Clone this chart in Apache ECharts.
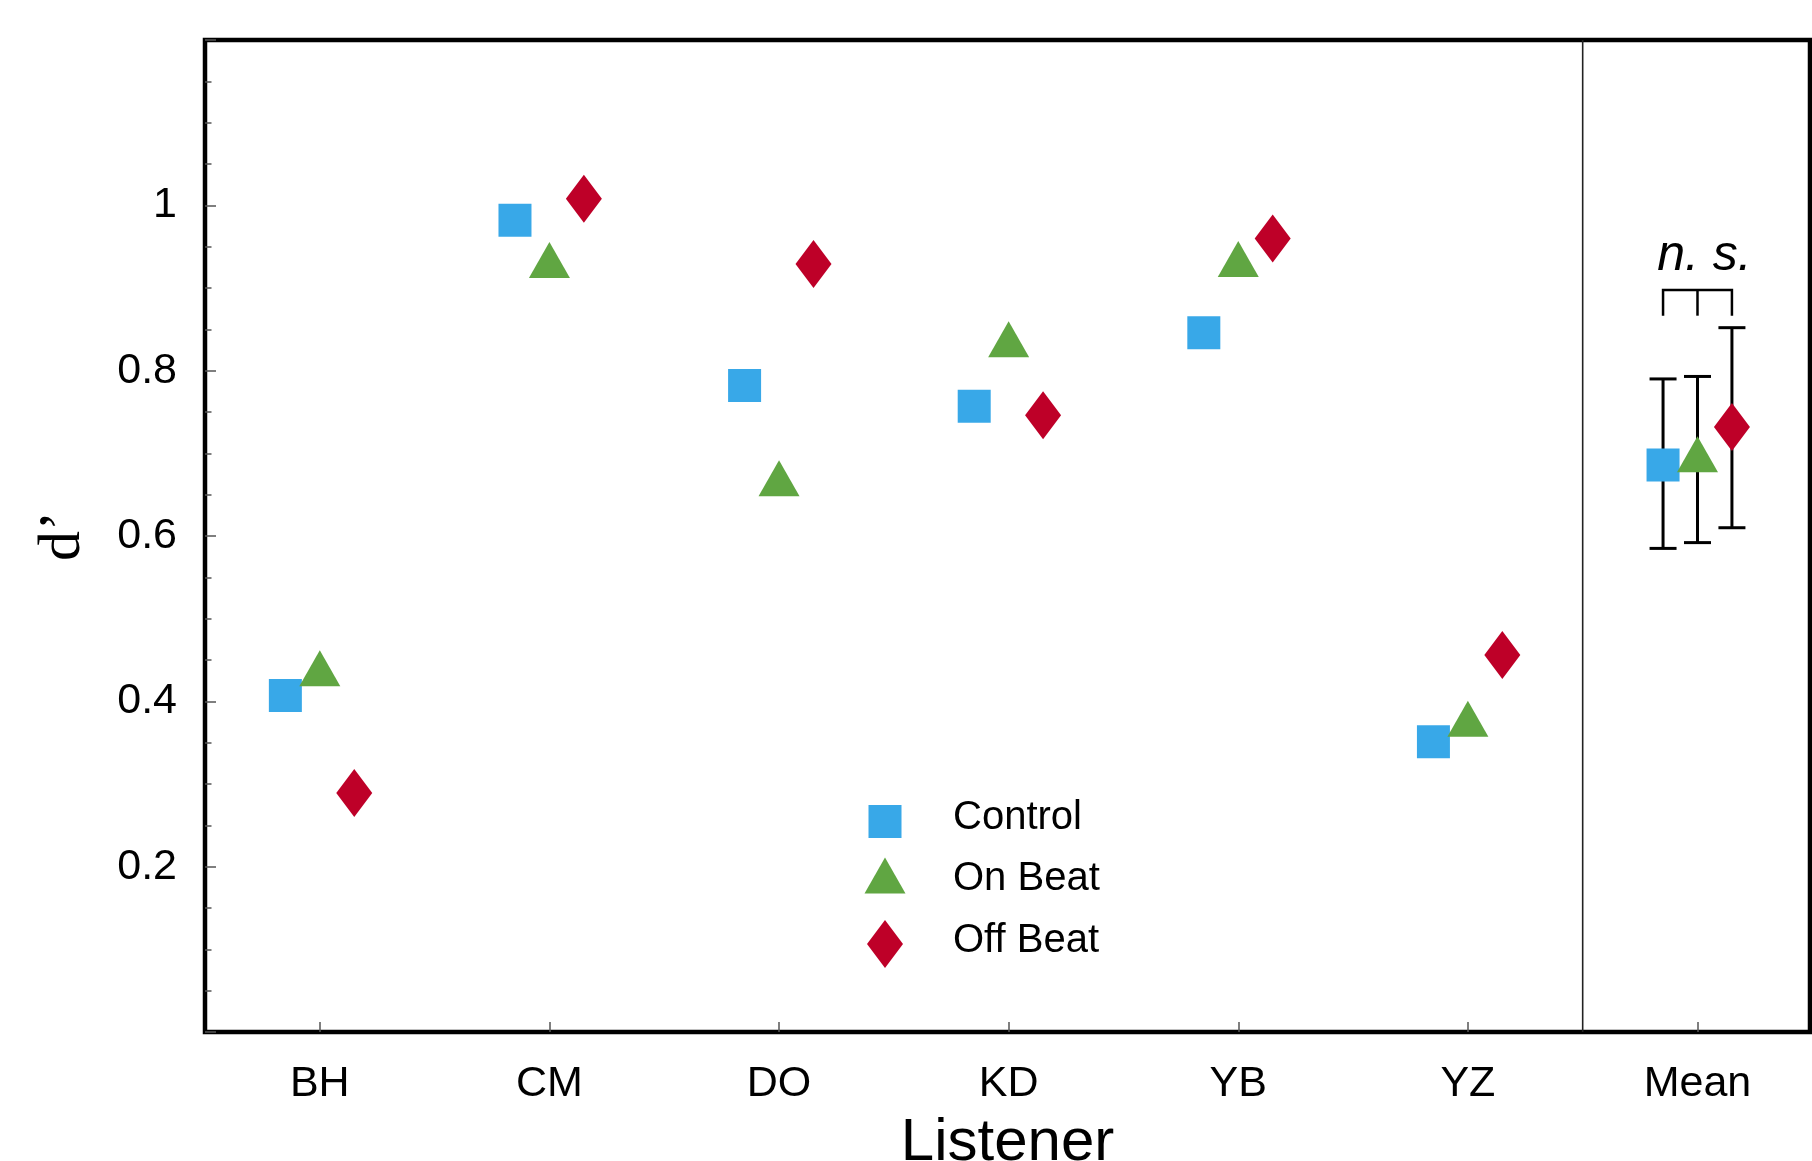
<!DOCTYPE html>
<html><head><meta charset="utf-8">
<script src="https://cdn.jsdelivr.net/npm/echarts@6/dist/echarts.min.js"></script>
<style>html,body{margin:0;padding:0;background:#fff}#c{width:1812px;height:1161px}</style>
</head><body><div id="c"></div>
<script>
// ---- data ----
const categories = ['BH', 'CM', 'DO', 'KD', 'YB', 'YZ', 'Mean'];
const control = [0.407, 0.982, 0.782, 0.757, 0.846, 0.351, 0.686];
const onBeat  = [0.440, 0.934, 0.670, 0.838, 0.935, 0.379, 0.699];
const offBeat = [0.289, 1.008, 0.929, 0.746, 0.960, 0.456, 0.732];
const meanLower = [0.585, 0.592, 0.610];   // Control, On Beat, Off Beat
const meanUpper = [0.790, 0.793, 0.852];
const bracketBottom = 0.8665;
const bracketTop = 0.8975;
const nsLabel = 'n. s.';
const yTickLabels = [0.2, 0.4, 0.6, 0.8, 1];
const xTickValues = [1, 2, 3, 4, 5, 6, 7];
const separatorX = 6.5;

// ---- layout / style ----
const offsets = [-0.15, 0, 0.15];
const colors = ['#38A8E8', '#60A642', '#BE0028'];
const FONT = 'Liberation Sans';
const meanX = categories.length;

const toPoints = (arr, off) => arr.map((v, i) => [i + 1 + off, v]);
const errData = offsets.map((o, i) => [meanX + o, meanLower[i], meanUpper[i]]);

const chart = echarts.init(document.getElementById('c'), null, {renderer: 'canvas'});
chart.setOption({
  animation: false,
  backgroundColor: '#fff',
  grid: {left: 205, right: 2, top: 40, bottom: 129, containLabel: false, outerBoundsMode: 'none',
         show: true, borderColor: '#000', borderWidth: 4.5, backgroundColor: 'transparent'},
  xAxis: {
    type: 'value', min: 0.5, max: 7.49,
    axisLine: {show: false},
    splitLine: {show: false},
    axisTick: {show: true, inside: true, length: 10, customValues: xTickValues, lineStyle: {color: '#555', width: 1.5}},
    axisLabel: {customValues: xTickValues, formatter: v => categories[Math.round(v) - 1], margin: 31, fontSize: 43, fontFamily: FONT, color: '#000'},
    name: 'Listener', nameLocation: 'middle', nameGap: 81, nameMoveOverlap: false,
    nameTextStyle: {fontSize: 60, fontFamily: FONT, color: '#000'}
  },
  yAxis: {
    type: 'value', min: 0, max: 1.2, interval: 0.2,
    axisLine: {show: false},
    splitLine: {show: false},
    axisTick: {show: true, inside: true, length: 11, lineStyle: {color: '#555', width: 1.5}},
    minorTick: {show: true, splitNumber: 4, length: 6.5, lineStyle: {color: '#555', width: 1.5}},
    axisLabel: {customValues: yTickLabels, formatter: v => String(+v.toFixed(2)), margin: 28, fontSize: 43, fontFamily: FONT, color: '#000'},
    name: 'd\u2019', nameLocation: 'middle', nameGap: 112, nameMoveOverlap: false,
    nameTextStyle: {fontSize: 60, fontFamily: 'Liberation Serif', color: '#000'}
  },
  legend: {
    left: 864, top: 790, orient: 'vertical', padding: 0,
    itemWidth: 84, itemHeight: 56, itemGap: 5.4, selectedMode: false,
    textStyle: {fontSize: 40, fontFamily: FONT, color: '#000'},
    data: [
      {name: 'Control', icon: 'path://M0 0M84 56M4.5 15.1L37.5 15.1L37.5 48.1L4.5 48.1Z'},
      {name: 'On Beat', icon: 'path://M0 0M84 56M21 6.2L41.5 42.2L0.5 42.2Z'},
      {name: 'Off Beat', icon: 'path://M0 0M84 56M21 7.3L39 31.3L21 55.3L3 31.3Z'}
    ]
  },
  series: [
    {name: 'separator', type: 'line', data: [[separatorX, 0], [separatorX, 1.2]], symbol: 'none', silent: true,
     lineStyle: {color: '#222', width: 1.6}, z: 1},
    {name: 'errorbars', type: 'custom', data: errData, silent: true, z: 2,
     renderItem: (params, api) => {
       const x = api.value(0);
       const lo = api.coord([x, api.value(1)]);
       const hi = api.coord([x, api.value(2)]);
       const hw = 13.5, st = {stroke: '#000', lineWidth: 3};
       return {type: 'group', children: [
         {type: 'line', shape: {x1: lo[0], y1: lo[1], x2: hi[0], y2: hi[1]}, style: st},
         {type: 'line', shape: {x1: lo[0] - hw, y1: lo[1], x2: lo[0] + hw, y2: lo[1]}, style: st},
         {type: 'line', shape: {x1: hi[0] - hw, y1: hi[1], x2: hi[0] + hw, y2: hi[1]}, style: st}
       ]};
     }},
    {name: 'bracket', type: 'custom', data: [[meanX, bracketBottom, bracketTop]], silent: true, z: 2,
     renderItem: (params, api) => {
       const x = api.value(0);
       const l = api.coord([x + offsets[0], api.value(2)]);
       const r = api.coord([x + offsets[2], api.value(2)]);
       const m = api.coord([x, api.value(2)]);
       const yb = api.coord([x, api.value(1)])[1];
       const st = {stroke: '#000', lineWidth: 2.5, fill: null};
       return {type: 'group', children: [
         {type: 'polyline', shape: {points: [[l[0], yb], [l[0], l[1]], [r[0], r[1]], [r[0], yb]]}, style: st},
         {type: 'line', shape: {x1: m[0], y1: m[1], x2: m[0], y2: yb}, style: {stroke: '#000', lineWidth: 2.5}}
       ]};
     }},
    {name: 'nsText', type: 'custom', data: [[meanX + 0.03, 0.938]], silent: true, z: 2,
     renderItem: (params, api) => {
       const p = api.coord([api.value(0), api.value(1)]);
       return {type: 'text', x: p[0], y: p[1], style: {text: nsLabel, font: 'italic 50px "Liberation Sans"', fill: '#000', align: 'center', verticalAlign: 'middle'}};
     }},
    {name: 'Control', type: 'scatter', symbol: 'rect', symbolSize: [33, 33], itemStyle: {color: colors[0], opacity: 1},
     data: toPoints(control, offsets[0]), z: 5},
    {name: 'On Beat', type: 'scatter', symbol: 'triangle', symbolSize: [41, 36], itemStyle: {color: colors[1], opacity: 1},
     data: toPoints(onBeat, offsets[1]), z: 5},
    {name: 'Off Beat', type: 'scatter', symbol: 'diamond', symbolSize: [36, 48], itemStyle: {color: colors[2], opacity: 1},
     data: toPoints(offBeat, offsets[2]), z: 5}
  ]
});
</script></body></html>
